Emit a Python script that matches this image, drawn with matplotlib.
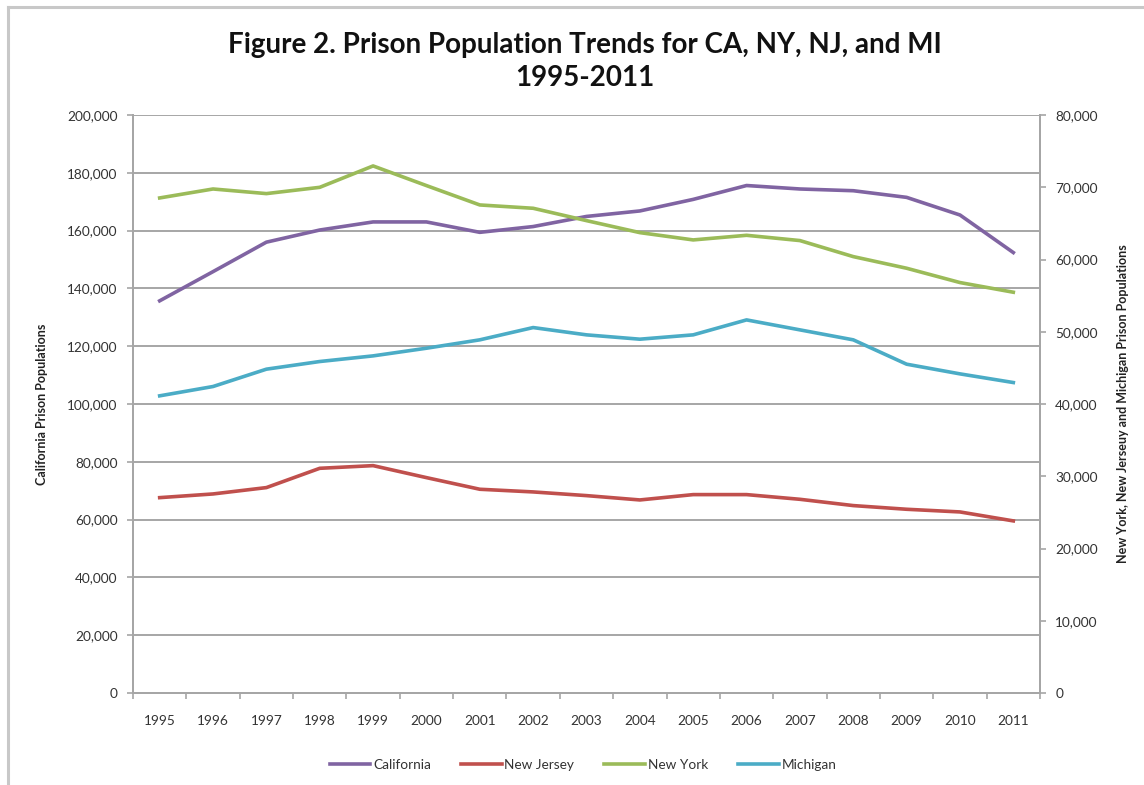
import matplotlib
matplotlib.use("Agg")
import matplotlib.pyplot as plt
from matplotlib.lines import Line2D
from matplotlib.ticker import FuncFormatter, FixedLocator

years = [str(y) for y in range(1995, 2012)]

california = [135700, 145800, 156000, 160200, 163000, 163000, 159400, 161400,
              164900, 166800, 170800, 175600, 174400, 173800, 171500, 165400,
              152400]
new_jersey = [27040, 27550, 28430, 31100, 31470, 29810, 28200, 27830,
              27320, 26720, 27460, 27460, 26810, 25940, 25430, 25060, 23820]
new_york = [68520, 69760, 69120, 69990, 72950, 70230, 67550, 67090,
            65380, 63720, 62710, 63350, 62620, 60400, 58790, 56810, 55470]
michigan = [41130, 42420, 44820, 45880, 46660, 47720, 48880, 50580,
            49570, 48970, 49570, 51640, 50260, 48880, 45510, 44170, 42970]

c_purple = "#8064a2"
c_red = "#c0504d"
c_green = "#9bbb59"
c_cyan = "#4bacc6"
grey = "#a6a6a6"
txt = "#333333"

plt.rcParams['font.family'] = ['Lato', 'DejaVu Sans']

fig = plt.figure(figsize=(11.44, 7.85), dpi=100)
ax = fig.add_axes([133 / 1144, 1 - 693 / 785, 907 / 1144, 578 / 785])
ax2 = ax.twinx()

x = list(range(len(years)))
l1, = ax.plot(x, california, color=c_purple, lw=2.6, label="California")
l2, = ax2.plot(x, new_jersey, color=c_red, lw=2.6, label="New Jersey")
l3, = ax2.plot(x, new_york, color=c_green, lw=2.6, label="New York")
l4, = ax2.plot(x, michigan, color=c_cyan, lw=2.6, label="Michigan")

ax.set_xlim(-0.5, len(years) - 0.5)
ax.set_ylim(0, 200000)
ax2.set_ylim(0, 80000)
ax.set_yticks(range(0, 200001, 20000))
ax2.set_yticks(range(0, 80001, 10000))
fmt = FuncFormatter(lambda v, p: f"{int(v):,}")
ax.yaxis.set_major_formatter(fmt)
ax2.yaxis.set_major_formatter(fmt)

ax.set_xticks(x)
ax.set_xticklabels(years)
ax.xaxis.set_minor_locator(FixedLocator([i - 0.5 for i in range(len(years) + 1)]))
ax.tick_params(axis='x', which='major', length=0, pad=16, labelsize=9.8, labelcolor=txt)
ax.tick_params(axis='x', which='minor', length=4, width=1.2, color=grey, direction='out')
ax.tick_params(axis='y', length=4, width=1.2, color=grey, pad=7, labelsize=9.8, labelcolor=txt)
ax2.tick_params(axis='y', length=4, width=1.2, color=grey, pad=7, labelsize=9.8, labelcolor=txt)

ax.grid(axis='y', color=grey, lw=1.4)
ax.set_axisbelow(True)
for a in (ax, ax2):
    for s in a.spines.values():
        s.set_color(grey)
        s.set_linewidth(1.4)
    a.spines['top'].set_visible(False)

ax.set_ylabel("California Prison Populations", fontsize=9, fontweight='bold',
              color="#222222", labelpad=14)
ax2.set_ylabel("New York, New Jerseuy and Michigan Prison Populations", fontsize=9,
               fontweight='bold', color="#222222", rotation=90, labelpad=14)

fig.text(585 / 1144, 1 - 45 / 785, "Figure 2. Prison Population Trends for CA, NY, NJ, and MI",
         ha='center', va='center', fontsize=20, fontweight='bold', color="#111111")
fig.text(585 / 1144, 1 - 78 / 785, "1995-2011",
         ha='center', va='center', fontsize=20, fontweight='bold', color="#111111")

fig.legend(handles=[l1, l2, l3, l4], loc='center', bbox_to_anchor=(583 / 1144, 1 - 765 / 785),
           ncol=4, frameon=False, fontsize=9.8, handlelength=3, handletextpad=0.2,
           columnspacing=2.2, labelcolor=txt)

# outer chart border (top and left edges visible in the crop)
bx, by = 8 / 1144, 1 - 7 / 785
fig.lines.append(Line2D([bx, 1.0], [by, by], transform=fig.transFigure,
                        color="#c8c8c8", lw=2.2))
fig.lines.append(Line2D([bx, bx], [0.0, by], transform=fig.transFigure,
                        color="#c8c8c8", lw=2.2))

fig.savefig("out.png", dpi=100)
